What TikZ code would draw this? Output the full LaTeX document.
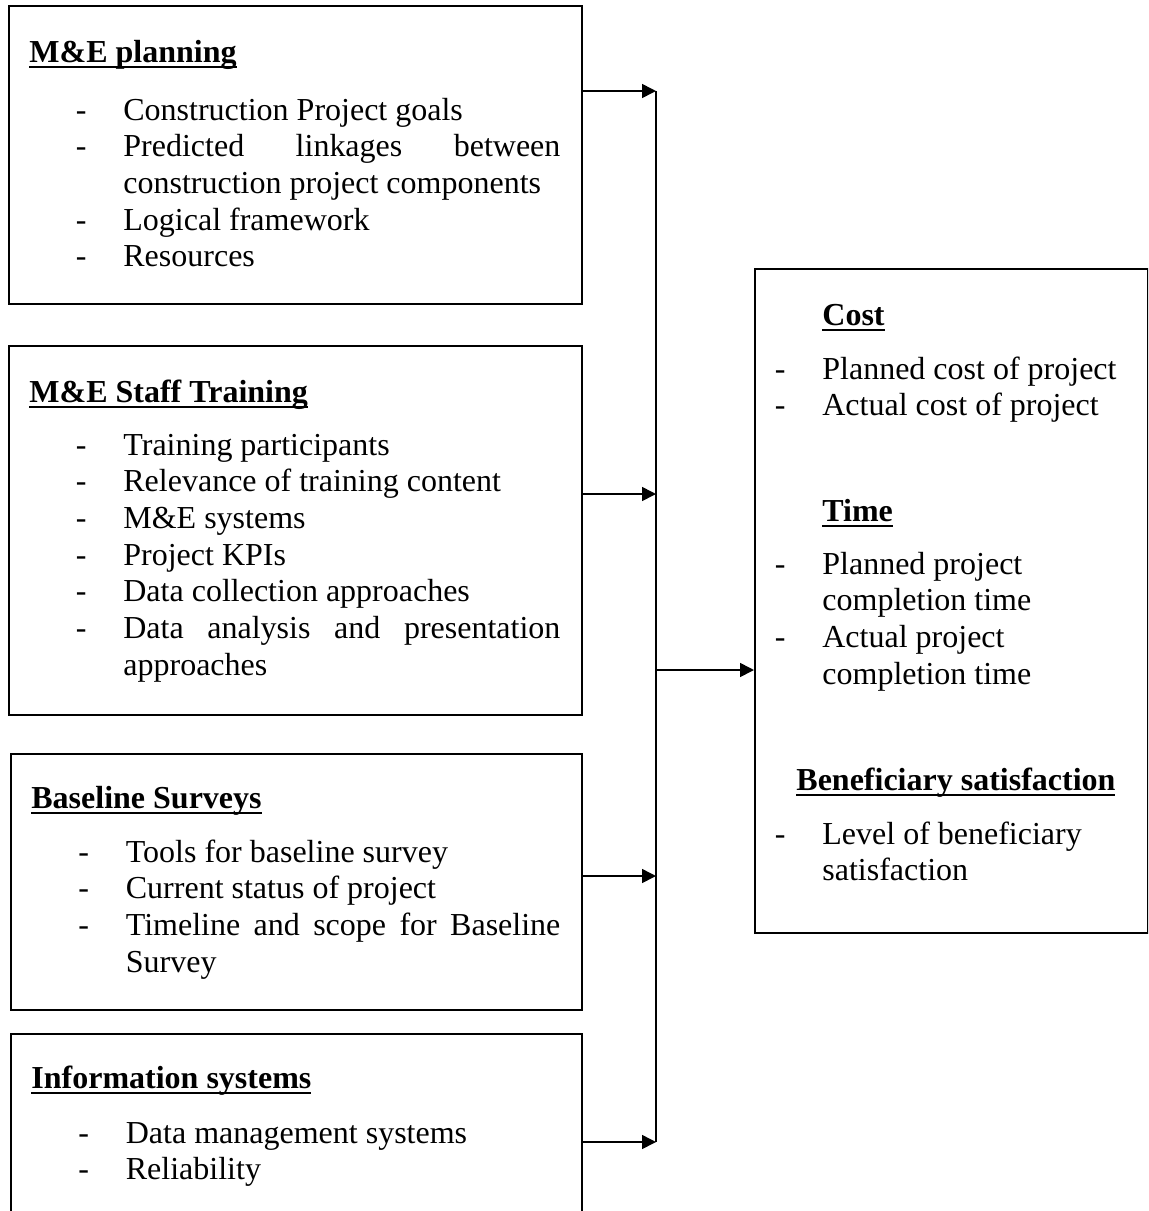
\documentclass[tikz,border=0pt]{standalone}
\usepackage{fontspec}
\setmainfont{Liberation Serif}
\usetikzlibrary{arrows.meta}

\hyphenpenalty=10000
\exhyphenpenalty=10000
\tolerance=10000
\hbadness=10000

\newcommand{\ulhead}[1]{\setbox0\hbox{\bfseries #1}\rlap{\rule[-2.9pt]{\wd0}{1.1pt}}\box0}
\newcommand{\itm}[1]{\par\noindent\hangindent=23.75pt\hangafter=1\makebox[23.75pt][l]{-}#1\par}

\begin{document}
\begin{tikzpicture}[x=0.5pt, y=-0.5pt, >={Triangle[length=7pt,width=7pt]},
	font=\fontsize{16}{18.35}\selectfont,
	box/.style={draw, line width=0.9pt, inner sep=0pt, anchor=north west},
	head/.style={anchor=base west, inner sep=0pt},
	items/.style={anchor=north west, inner sep=0pt, align=justify, text width=#1},
	link/.style={line width=0.8pt}]
	\clip (0,0) rectangle (1148,1211);

	% Boxes {b1, b2, b3, b4, out}
	\node [box, minimum width=286.5pt, minimum height=149pt]   (b1)  at (8,5)    {};
	\node [box, minimum width=286.5pt, minimum height=184.5pt] (b2)  at (8,345)  {};
	\node [box, minimum width=285.5pt, minimum height=128pt]   (b3)  at (10,753) {};
	\node [box, minimum width=285.5pt, minimum height=100pt]   (b4)  at (10,1033) {};
	\node [box, minimum width=196.5pt, minimum height=332pt]   (out) at (754,268) {};

	% Headings and lists
	\node [head] (h1) at (29,62) {\ulhead{M\&E planning}};
	\node [items=242.25pt] (l1) at (75.5,83) {%
		\itm{Construction Project goals}
		\itm{Predicted linkages between construction project components}
		\itm{Logical framework}
		\itm{Resources}};

	\node [head] (h2) at (29,402) {\ulhead{M\&E Staff Training}};
	\node [items=242.25pt] (l2) at (75.5,418) {%
		\itm{Training participants}
		\itm{Relevance of training content}
		\itm{M\&E systems}
		\itm{Project KPIs}
		\itm{Data collection approaches}
		\itm{Data analysis and presentation approaches}};

	\node [head] (h3) at (31,808) {\ulhead{Baseline Surveys}};
	\node [items=241pt] (l3) at (78,825) {%
		\itm{Tools for baseline survey}
		\itm{Current status of project}
		\itm{Timeline and scope for Baseline Survey}};

	\node [head] (h4) at (31,1088) {\ulhead{Information systems}};
	\node [items=241pt] (l4) at (78,1106) {%
		\itm{Data management systems}
		\itm{Reliability}};

	\node [head] (h5) at (822,325) {\ulhead{Cost}};
	\node [items=180pt] (l5) at (774.5,342) {%
		\itm{Planned cost of project}
		\itm{Actual cost of project}};

	\node [head] (h6) at (822,521) {\ulhead{Time}};
	\node [items=180pt] (l6) at (774.5,537) {%
		\itm{Planned project\newline completion time}
		\itm{Actual project\newline completion time}};

	\node [head] (h7) at (796,790) {\ulhead{Beneficiary satisfaction}};
	\node [items=180pt] (l7) at (774.5,807) {%
		\itm{Level of beneficiary\newline satisfaction}};

	% Paths
	\coordinate (j1) at (656,91);
	\coordinate (j2) at (656,494);
	\coordinate (j3) at (656,876);
	\coordinate (j4) at (656,1142);
	\coordinate (jm) at (656,670);
	\draw [link]     (j1) -- (j4);
	\draw [link, ->] (b1.east |- j1) -- (j1);
	\draw [link, ->] (b2.east |- j2) -- (j2);
	\draw [link, ->] (b3.east |- j3) -- (j3);
	\draw [link, ->] (b4.east |- j4) -- (j4);
	\draw [link, ->] (jm) -- (jm -| out.west);
\end{tikzpicture}
\end{document}
